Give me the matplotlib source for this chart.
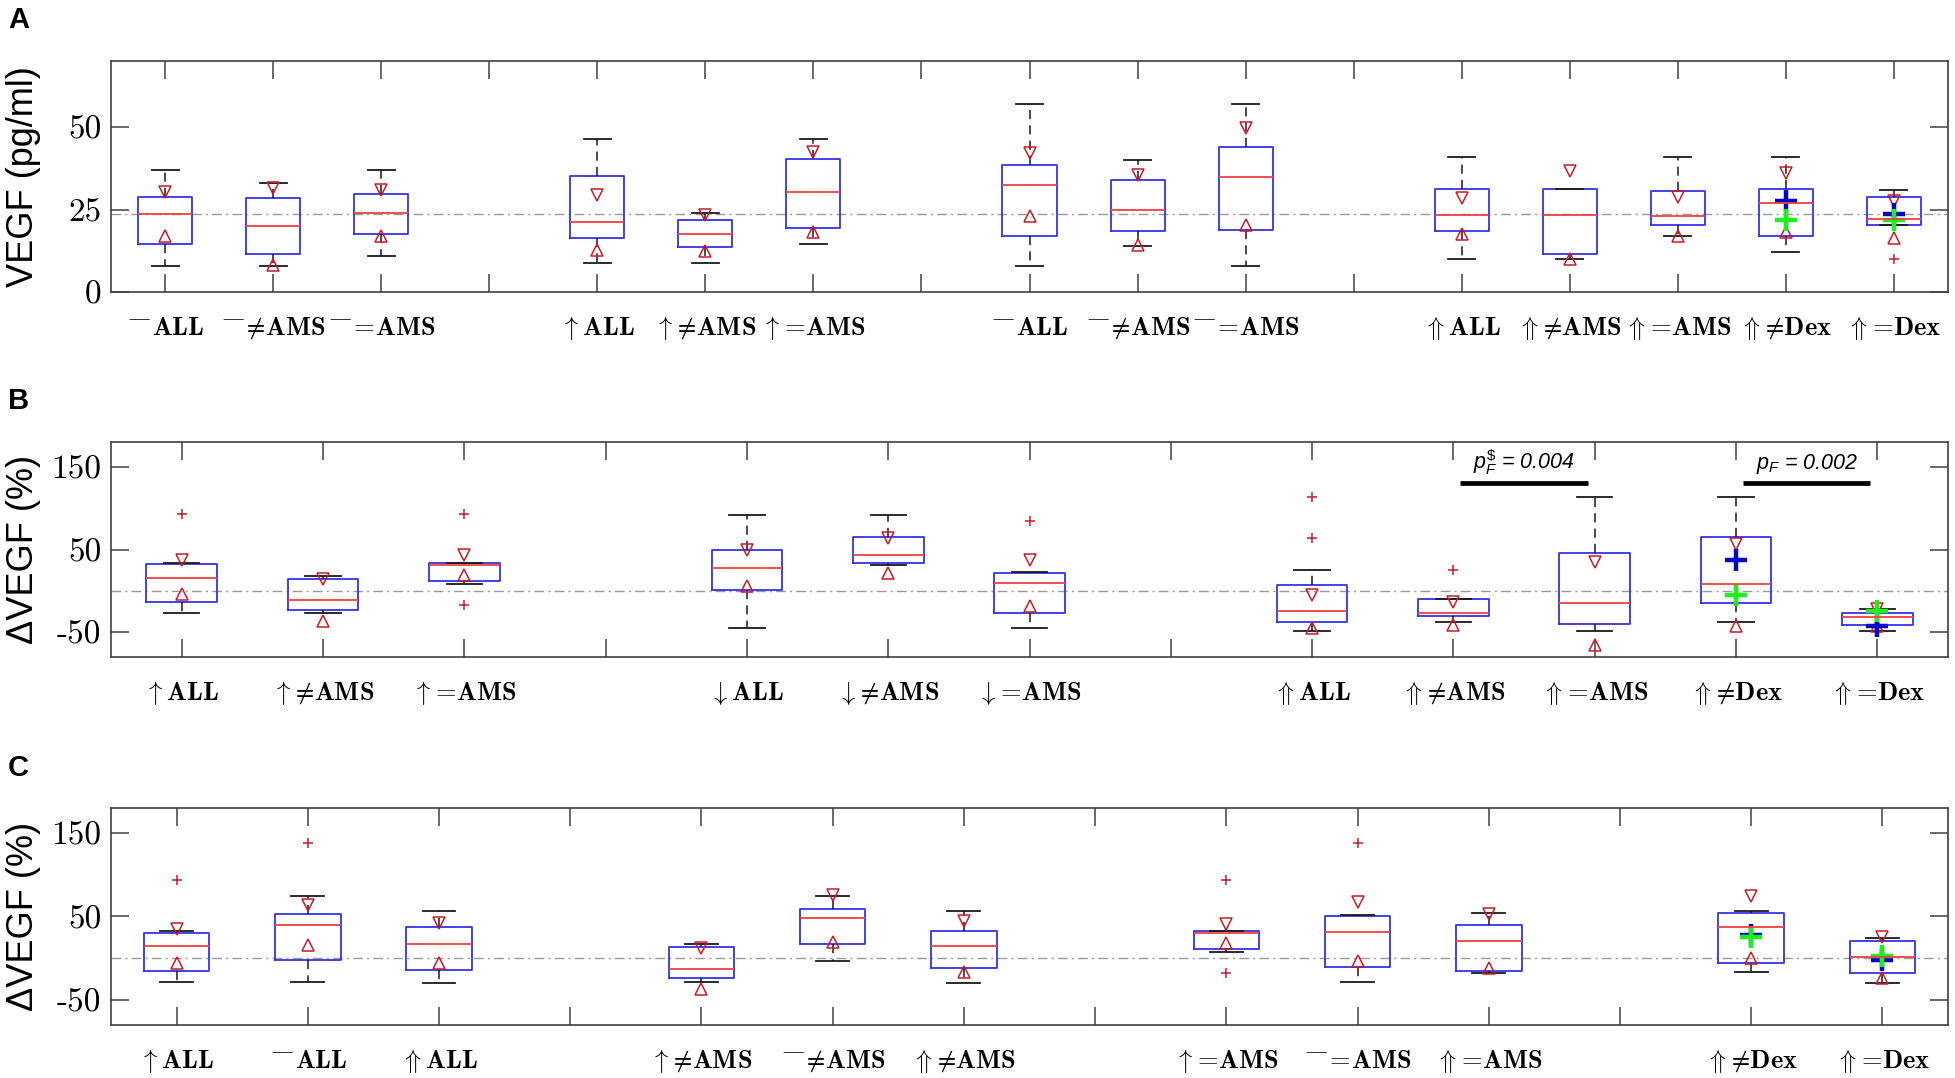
import matplotlib
matplotlib.use("Agg")
import matplotlib.pyplot as plt

plt.rcParams['mathtext.fontset'] = 'cm'
plt.rcParams['mathtext.it'] = 'Liberation Sans:italic'
plt.rcParams['mathtext.rm'] = 'Liberation Sans'
plt.rcParams['mathtext.bf'] = 'Liberation Sans:bold'

# ---------------- tick label pieces ----------------
PRE = {'bar': r'^{-\!\!\!-}\!', 'up': r'\uparrow', 'down': r'\downarrow', 'Up': r'\Uparrow'}
SUF = {'ALL': r'\mathbf{ALL}', 'nAMS': r'\!\neq\!\mathbf{AMS}', 'eAMS': r'\!=\!\mathbf{AMS}',
       'nDex': r'\!\neq\!\mathbf{Dex}', 'eDex': r'\!=\!\mathbf{Dex}'}

# ---------------- Panel A data ----------------
A_labels = [('bar', 'ALL'), ('bar', 'nAMS'), ('bar', 'eAMS'), None,
            ('up', 'ALL'), ('up', 'nAMS'), ('up', 'eAMS'), None,
            ('bar', 'ALL'), ('bar', 'nAMS'), ('bar', 'eAMS'), None,
            ('Up', 'ALL'), ('Up', 'nAMS'), ('Up', 'eAMS'), ('Up', 'nDex'), ('Up', 'eDex')]
A_pos = [1, 2, 3, 5, 6, 7, 9, 10, 11, 13, 14, 15, 16, 17]
A_med = [23.5, 19.9, 24.0, 21.2, 17.6, 30.3, 32.5, 25.0, 35.0, 23.2, 23.4, 23.1, 27.1, 22.0]
A_q1 = [14.4, 11.6, 17.7, 16.3, 13.6, 19.4, 16.9, 18.4, 18.7, 18.6, 11.5, 20.3, 16.9, 20.3]
A_q3 = [28.9, 28.4, 29.6, 35.1, 21.7, 40.3, 38.6, 34.0, 43.8, 31.2, 31.2, 30.7, 31.2, 28.9]
A_lo = [7.8, 7.8, 10.8, 8.9, 8.9, 14.6, 7.8, 13.9, 7.8, 9.9, 9.9, 16.9, 12.1, 20.3]
A_hi = [37.0, 33.0, 37.0, 46.5, 24.0, 46.5, 57.1, 40.0, 57.1, 40.8, 31.2, 40.8, 40.8, 31.0]
A_nhi = [30.3, 31.6, 31.0, 29.3, 23.2, 42.4, 42.1, 35.6, 49.8, 28.5, 36.6, 28.7, 36.1, 27.5]
A_nlo = [17.0, 8.3, 17.0, 12.8, 12.3, 18.3, 22.9, 14.1, 20.3, 17.6, 10.0, 17.0, 18.1, 16.5]
A_fliers = {17: [9.9]}
A_blue_pos, A_blue = [16, 17], [27.7, 23.7]
A_green_pos, A_green = [16, 17], [21.7, 21.7]
A_ref = 23.5
A_yticks = [0, 25, 50]
A_ylim = (0, 70)

# ---------------- Panel B data ----------------
B_labels = [('up', 'ALL'), ('up', 'nAMS'), ('up', 'eAMS'), None,
            ('down', 'ALL'), ('down', 'nAMS'), ('down', 'eAMS'), None,
            ('Up', 'ALL'), ('Up', 'nAMS'), ('Up', 'eAMS'), ('Up', 'nDex'), ('Up', 'eDex')]
B_pos = [1, 2, 3, 5, 6, 7, 9, 10, 11, 12, 13]
B_med = [16.0, -11.2, 30.8, 28.0, 42.8, 9.6, -24.4, -26.4, -14.4, 8.0, -32.0]
B_q1 = [-14.0, -22.8, 12.0, 1.2, 33.2, -26.8, -37.2, -30.4, -40.0, -14.8, -41.2]
B_q3 = [32.0, 14.4, 33.6, 49.2, 65.2, 21.6, 7.6, -10.0, 46.0, 65.2, -26.4]
B_lo = [-26.4, -26.4, 8.8, -44.8, 31.6, -44.8, -48.4, -37.6, -48.4, -37.6, -48.4]
B_hi = [33.2, 18.4, 33.6, 91.2, 91.2, 23.2, 25.6, -10.0, 113.6, 113.6, -21.6]
B_nhi = [36.8, 14.0, 42.8, 48.8, 64.0, 37.6, -4.8, -13.2, 34.8, 57.2, -22.0]
B_nlo = [-4.0, -36.8, 18.8, 6.0, 22.0, -18.0, -44.8, -40.8, -66.0, -42.4, -42.0]
B_fliers = {1: [93.2], 3: [93.2, -16.8], 7: [84.4], 9: [113.2, 64.4], 10: [25.6]}
B_blue_pos, B_blue = [12, 13], [37.6, -42.4]
B_green_pos, B_green = [12, 13], [-5.2, -24.0]
B_ref = 0
B_sig_x0 = [10.05, 12.05]
B_sig_x1 = [10.95, 12.95]
B_sig_y = [130, 130]
B_sig_text = [r'$p_F^{\$}$ = 0.004', r'$p_F$ = 0.002']

# ---------------- Panel C data ----------------
C_labels = [('up', 'ALL'), ('bar', 'ALL'), ('Up', 'ALL'), None,
            ('up', 'nAMS'), ('bar', 'nAMS'), ('Up', 'nAMS'), None,
            ('up', 'eAMS'), ('bar', 'eAMS'), ('Up', 'eAMS'), None,
            ('Up', 'nDex'), ('Up', 'eDex')]
C_pos = [1, 2, 3, 5, 6, 7, 9, 10, 11, 13, 14]
C_med = [14.8, 40.0, 17.6, -12.4, 48.0, 14.8, 30.0, 32.0, 20.8, 37.6, 1.2]
C_q1 = [-15.2, -2.0, -14.4, -24.0, 17.6, -12.0, 10.8, -10.0, -14.8, -6.0, -18.0]
C_q3 = [30.8, 52.8, 37.6, 13.2, 59.2, 32.4, 33.2, 50.8, 40.4, 54.0, 20.4]
C_lo = [-28.0, -28.0, -30.0, -28.0, -3.2, -30.0, 7.2, -28.0, -17.6, -16.0, -30.0]
C_hi = [32.8, 74.8, 56.4, 17.2, 74.8, 56.4, 33.2, 51.6, 54.4, 56.0, 24.8]
C_nhi = [34.8, 64.0, 42.0, 12.8, 75.6, 45.2, 41.2, 66.8, 52.4, 74.8, 26.0]
C_nlo = [-5.2, 16.0, -5.2, -37.2, 20.0, -16.0, 18.4, -2.8, -12.0, 0.4, -24.0]
C_fliers = {1: [93.2], 2: [137.6], 9: [93.2, -18.0], 10: [137.6]}
C_blue_pos, C_blue = [13, 14], [27.6, -2.0]
C_green_pos, C_green = [13, 14], [26.0, 3.2]
C_ref = 0

BC_yticks = [-50, 50, 150]
BC_ylim = (-80, 180)

W, H = 1955, 1078
fig = plt.figure(figsize=(W / 100, H / 100), dpi=100)


def px_axes(left, right, top, bottom):
    return fig.add_axes([left / W, 1 - bottom / H, (right - left) / W, (bottom - top) / H])


def make_label(item):
    if item is None:
        return ''
    p, s = item
    return '$' + PRE[p] + SUF[s] + '$'


def panel(ax, labels, pos, med, q1, q3, lo, hi, nhi, nlo, fliers, bpos, bval,
          gpos, gval, ref, yticks, ylim, ylabel):
    n = len(labels)
    stats = []
    for i, p in enumerate(pos):
        stats.append(dict(med=med[i], q1=q1[i], q3=q3[i], whislo=lo[i], whishi=hi[i],
                          fliers=fliers.get(p, [])))
    ax.axhline(ref, color='0.6', lw=1.0, ls=(0, (7, 3, 1.5, 3)), zorder=0)
    ax.bxp(stats, positions=pos, widths=0.5, manage_ticks=False,
           boxprops=dict(color=(0.2, 0.2, 0.92), lw=1.3),
           medianprops=dict(color=(0.95, 0.25, 0.25), lw=1.3),
           whiskerprops=dict(color='0.1', lw=1.1, ls=(0, (6, 4))),
           capprops=dict(color='0.1', lw=1.3),
           flierprops=dict(marker='+', markeredgecolor=(0.8, 0.1, 0.15), ms=7, mew=1.1,
                           linestyle='none'))
    ax.plot(pos, nhi, linestyle='none', marker='v', ms=8, mfc='none',
            mec=(0.8, 0.1, 0.15), mew=1.1)
    ax.plot(pos, nlo, linestyle='none', marker='^', ms=8, mfc='none',
            mec=(0.8, 0.1, 0.15), mew=1.1)
    ax.plot(bpos, bval, linestyle='none', marker='+', ms=16, mew=3.2, color=(0.0, 0.0, 0.8))
    ax.plot(gpos, gval, linestyle='none', marker='+', ms=16, mew=3.2, color=(0.1, 0.95, 0.1))
    ax.set_xlim(0.5, n + 0.5)
    ax.set_ylim(*ylim)
    ax.set_xticks(range(1, n + 1), [make_label(l) for l in labels])
    ax.set_yticks(yticks, [str(t) for t in yticks])
    ax.tick_params(axis='both', direction='in', length=13, width=1.1, color='0.25',
                   top=True, right=True)
    ax.tick_params(axis='x', labelsize=19, pad=31)
    ax.tick_params(axis='y', labelsize=24, pad=7, labelfontfamily='cmr10')
    for t in ax.get_xticklabels():
        t.set_verticalalignment('baseline')
    for sp in ax.spines.values():
        sp.set_color('0.25')
        sp.set_linewidth(1.2)
    ax.set_ylabel(ylabel, fontsize=26, family='Liberation Sans')
    ax.yaxis.set_label_coords(-0.038, 0.5)


axA = px_axes(111, 1948, 61, 292)
panel(axA, A_labels, A_pos, A_med, A_q1, A_q3, A_lo, A_hi, A_nhi, A_nlo, A_fliers,
      A_blue_pos, A_blue, A_green_pos, A_green, A_ref, A_yticks, A_ylim, 'VEGF (pg/ml)')

axB = px_axes(111, 1948, 442, 657)
panel(axB, B_labels, B_pos, B_med, B_q1, B_q3, B_lo, B_hi, B_nhi, B_nlo, B_fliers,
      B_blue_pos, B_blue, B_green_pos, B_green, B_ref, BC_yticks, BC_ylim, '\u0394VEGF (%)')
for x0, x1, y, s in zip(B_sig_x0, B_sig_x1, B_sig_y, B_sig_text):
    axB.plot([x0, x1], [y, y], color='k', lw=3.4, solid_capstyle='butt')
    axB.text((x0 + x1) / 2, y + 17, s, ha='center', va='baseline', fontsize=15.5,
             style='italic', family='Liberation Sans', math_fontfamily='custom')

axC = px_axes(111, 1948, 808, 1025)
panel(axC, C_labels, C_pos, C_med, C_q1, C_q3, C_lo, C_hi, C_nhi, C_nlo, C_fliers,
      C_blue_pos, C_blue, C_green_pos, C_green, C_ref, BC_yticks, BC_ylim, '\u0394VEGF (%)')

for letter, yc in [('A', 20), ('B', 401), ('C', 768)]:
    fig.text(8 / W, 1 - yc / H, letter, fontsize=21, fontweight='bold',
             family='Liberation Sans', va='center', ha='left')

fig.savefig('out.png', dpi=100)
